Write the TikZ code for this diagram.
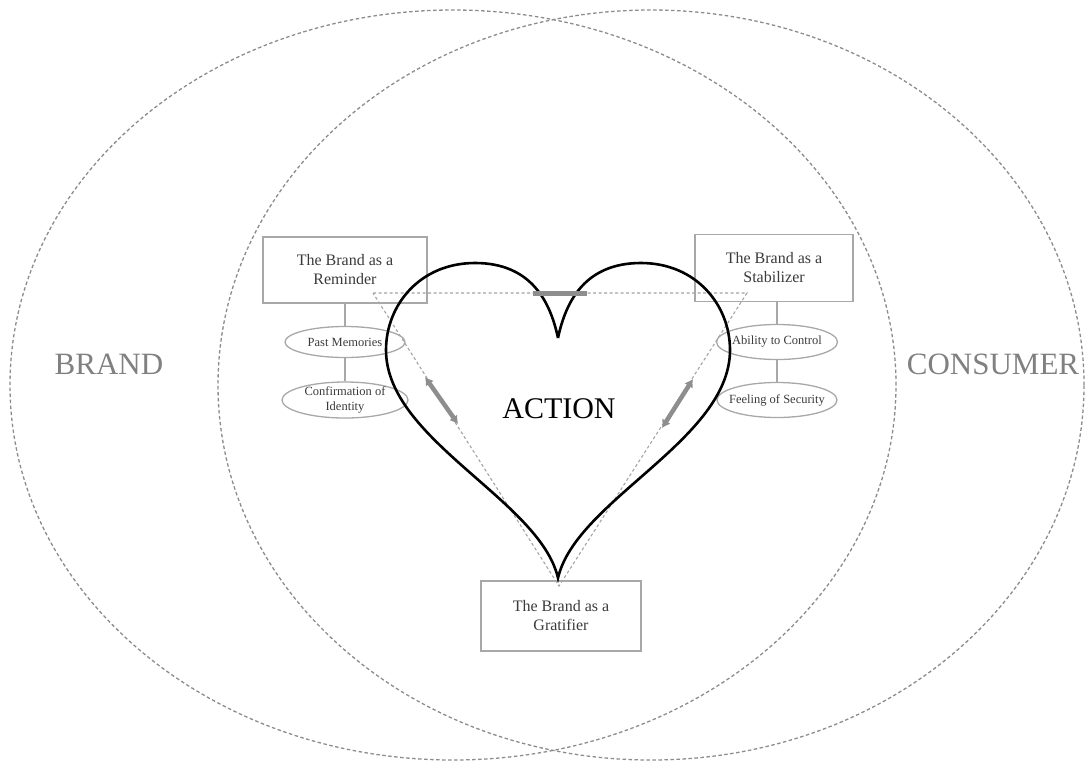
\documentclass[tikz,border=0pt]{standalone}
\usepackage{fontspec}
\setmainfont{Liberation Serif}
\usetikzlibrary{shapes.geometric, arrows.meta}
\definecolor{ringgray}{HTML}{8C8C8C}
\definecolor{boxgray}{HTML}{A8A8A8}
\definecolor{txtgray}{HTML}{3A3A3A}
\definecolor{bargray}{HTML}{8E8E8E}
\tikzstyle{gbox}=[rectangle, draw=boxgray, line width=1.4pt, text=txtgray, align=center, inner sep=0pt, font=\fontsize{16}{19}\selectfont]
\tikzstyle{goval}=[ellipse, draw=boxgray, line width=1.3pt, text=txtgray, align=center, inner xsep=-10pt, inner ysep=-2pt, font=\fontsize{12.5}{15}\selectfont]
\tikzstyle{ring}=[draw=ringgray, line width=1.3pt, dash pattern=on 3.5pt off 2.5pt]
\tikzstyle{tri}=[draw=ringgray!80, line width=1.1pt, dash pattern=on 3pt off 2.5pt]
\tikzstyle{tie}=[draw=boxgray, line width=1.4pt]
\tikzstyle{big}=[font=\fontsize{31}{36}\selectfont, text=gray]
\tikzstyle{twin}=[bargray, line width=4.5pt, {Latex[length=8pt,width=10pt]}-{Latex[length=8pt,width=10pt]}]

\begin{document}
\begin{tikzpicture}[x=1pt, y=-1pt]
\useasboundingbox (0,0) rectangle (1086,769);

\draw[ring] (453,385) ellipse [x radius=443pt, y radius=375pt];
\draw[ring] (651,385) ellipse [x radius=433pt, y radius=375pt];

\node[big] (brand) at (109,364) {BRAND};
\node[big] (cons) at (993,364) {CONSUMER};

\coordinate (t1) at (373,293);
\coordinate (t2) at (747,293);
\coordinate (t3) at (559,586);
\draw[tri] (t1) -- (t2) -- (t3) -- cycle;

\node[gbox, minimum width=164pt, minimum height=66pt] (rem) at (345,270) {The Brand as a\\Reminder};
\node[gbox, minimum width=158pt, minimum height=67pt] (stab) at (774,268) {The Brand as a\\Stabilizer};
\node[gbox, minimum width=160pt, minimum height=70pt] (grat) at (561,616) {The Brand as a\\Gratifier};

\node[goval, minimum width=120pt, minimum height=31pt] (past) at (345,342) {Past Memories};
\node[goval, minimum width=126pt, minimum height=36pt] (ident) at (345,400) {Confirmation of\\Identity};
\node[goval, minimum width=121pt, minimum height=35pt] (ctrl) at (777,342) {Ability to Control};
\node[goval, minimum width=120pt, minimum height=35pt] (secu) at (777,400) {Feeling of Security};

\draw[tie] (rem) -- (past);
\draw[tie] (past) -- (ident);
\draw[tie] (stab.south -| ctrl) -- (ctrl);
\draw[tie] (ctrl) -- (secu);

\draw[line width=2.6pt] (558,338) .. controls (550,300) and (530,263) .. (475,263)
  .. controls (420,263) and (386,305) .. (386,350)
  .. controls (386,440) and (540,500) .. (558,578)
  .. controls (576,500) and (730,440) .. (730,350)
  .. controls (730,305) and (696,263) .. (641,263)
  .. controls (586,263) and (566,300) .. (558,338);

\coordinate (b1) at (533,293);
\coordinate (b2) at (587,293);
\draw[bargray, line width=5pt] (b1) -- (b2);

\coordinate (a1) at (425,377);
\coordinate (a2) at (458,424);
\coordinate (a3) at (693,379);
\coordinate (a4) at (662,428);
\draw[twin] (a1) -- (a2);
\draw[twin] (a3) -- (a4);

\node[font=\fontsize{30}{36}\selectfont] (act) at (559,409) {ACTION};

\end{tikzpicture}
\end{document}
